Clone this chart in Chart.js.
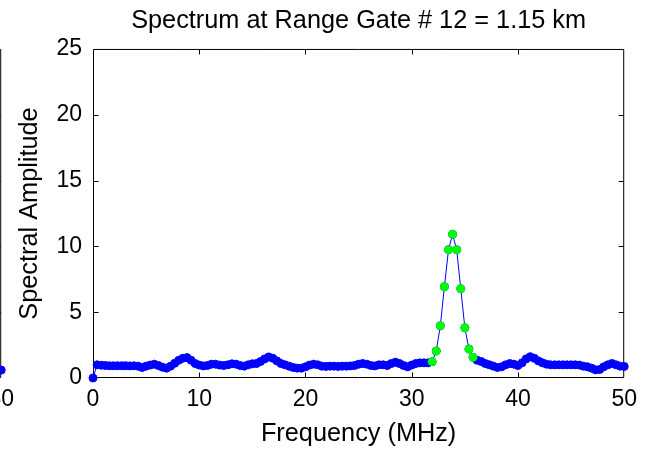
<!DOCTYPE html>
<html>
<head>
<meta charset="utf-8">
<script src="https://cdn.jsdelivr.net/npm/chart.js@4/dist/chart.umd.min.js"></script>
<style>
  html, body { margin: 0; padding: 0; background: #fff; overflow: hidden; }
  #wrap { position: relative; width: 645px; height: 449px; overflow: hidden; }
  canvas { position: absolute; top: 0; }
  #neighbor { left: -318px; }
  #spectrum { left: 0; }
</style>
</head>
<body>
<div id="wrap">
  <canvas id="neighbor" width="340" height="449"></canvas>
  <canvas id="spectrum" width="645" height="449"></canvas>
</div>
<script>
// spectrum bins run 0..50 MHz, 131 bins
var freqMax = 50;
var binCount = 131;

// spectral amplitude per bin
var amplitude = [
  0, 1.0, 0.97, 0.95, 0.93, 0.93, 0.93, 0.93, 0.93, 0.92,
  0.93, 0.9, 0.8, 0.9, 0.98, 1.05, 0.95, 0.82, 0.75, 0.9,
  1.12, 1.35, 1.5, 1.55, 1.35, 1.1, 0.98, 0.92, 0.95, 1.05,
  1.05, 0.98, 0.95, 1.0, 1.08, 1.05, 0.95, 0.9, 1.0, 1.08,
  1.1, 1.25, 1.45, 1.6, 1.5, 1.3, 1.1, 1.0, 0.9, 0.8,
  0.75, 0.75, 0.85, 0.98, 1.05, 1.0, 0.9, 0.88, 0.9, 0.9,
  0.88, 0.9, 0.9, 0.92, 0.95, 1.05, 1.1, 1.05, 0.95, 0.92,
  1.0, 1.0, 0.95, 1.1, 1.2, 1.1, 0.95, 0.85, 0.98, 1.1,
  1.15, 1.15, 1.15, 1.24, 2.05, 3.97, 6.94, 9.75, 10.92, 9.75,
  6.79, 3.82, 2.2, 1.57, 1.35, 1.25, 1.1, 1.0, 0.9, 0.8,
  0.85, 1.0, 1.1, 1.05, 0.95, 1.15, 1.45, 1.62, 1.5, 1.3,
  1.15, 1.05, 1.0, 1.0, 1.0, 1.0, 1.0, 1.0, 1.0, 0.98,
  0.9, 0.85, 0.75, 0.62, 0.65, 0.85, 1.0, 1.1, 1.0, 0.9,
  0.88
];

// bins flagged as signal (drawn green)
var signalBins = [83, 84, 85, 86, 87, 88, 89, 90, 91, 92, 93];

// neighbouring subplot, only its last bin shows at the left edge
var neighborFreq = [50];
var neighborAmp = [0.6];

var xTicks = [0, 10, 20, 30, 40, 50];
var yTicks = [0, 5, 10, 15, 20, 25];

var FAMILY = "'Liberation Sans', Arial, sans-serif";
var TICK_FONT = { family: FAMILY, size: 23 };
var LABEL_FONT = { family: FAMILY, size: 25.3, weight: 'normal' };

var points = amplitude.map(function(a, i) {
  return { x: i * freqMax / (binCount - 1), y: a };
});
var signalPoints = signalBins.map(function(i) { return points[i]; });

// matlab style box with inward ticks
var boxPlugin = {
  id: 'box',
  beforeDatasetsDraw: function(chart) {
    var ctx = chart.ctx, a = chart.chartArea;
    var x = chart.scales.x, y = chart.scales.y;
    var L = a.left + 0.5, R = a.right - 0.5, T = a.top + 0.5, B = a.bottom - 0.5;
    ctx.save();
    ctx.strokeStyle = '#000';
    ctx.lineWidth = 1;
    ctx.beginPath();
    ctx.rect(L, T, R - L, B - T);
    xTicks.slice(1, -1).forEach(function(v) {
      var px = Math.round(x.getPixelForValue(v)) + 0.5;
      ctx.moveTo(px, B); ctx.lineTo(px, B - 5);
      ctx.moveTo(px, T); ctx.lineTo(px, T + 5);
    });
    yTicks.slice(1, -1).forEach(function(v) {
      var py = Math.round(y.getPixelForValue(v)) + 0.5;
      ctx.moveTo(L, py); ctx.lineTo(L + 5, py);
      ctx.moveTo(R, py); ctx.lineTo(R - 5, py);
    });
    ctx.stroke();
    ctx.restore();
  }
};

function xScale(showTitle) {
  return {
    type: 'linear', min: 0, max: freqMax,
    afterBuildTicks: function(s) { s.ticks = xTicks.map(function(v) { return { value: v }; }); },
    afterFit: function(s) { s.height = 71; },
    grid: { display: false, drawTicks: false },
    border: { display: false },
    ticks: { font: TICK_FONT, color: '#000', padding: 8, maxRotation: 0 },
    title: { display: showTitle, text: 'Frequency (MHz)', font: LABEL_FONT, color: '#000', padding: { top: 0, bottom: 0 } }
  };
}

function yScale(showTitle) {
  return {
    type: 'linear', min: 0, max: 25,
    afterBuildTicks: function(s) { s.ticks = yTicks.map(function(v) { return { value: v }; }); },
    afterFit: function(s) { s.width = showTitle ? 93 : 0; },
    grid: { display: false, drawTicks: false },
    border: { display: false },
    ticks: { display: showTitle, font: TICK_FONT, color: '#000', padding: 11 },
    title: { display: showTitle, text: 'Spectral Amplitude', font: LABEL_FONT, color: '#000', padding: { top: 15, bottom: 0 } }
  };
}

new Chart(document.getElementById('neighbor'), {
  type: 'scatter',
  data: {
    datasets: [{
      data: neighborFreq.map(function(f, i) { return { x: f, y: neighborAmp[i] }; }),
      showLine: true,
      borderColor: '#0000ff', borderWidth: 1,
      pointRadius: 4, pointBorderWidth: 1,
      pointBackgroundColor: '#0000ff', pointBorderColor: '#0000ff',
      clip: false
    }]
  },
  options: {
    responsive: false, animation: false, devicePixelRatio: 1,
    layout: { padding: { top: 49, right: 20, left: 0, bottom: 0 } },
    plugins: { legend: { display: false }, tooltip: { enabled: false } },
    scales: { x: xScale(false), y: yScale(false) }
  },
  plugins: [boxPlugin]
});

new Chart(document.getElementById('spectrum'), {
  type: 'scatter',
  data: {
    datasets: [{
      label: 'signal',
      data: signalPoints,
      showLine: false,
      pointRadius: 4, pointBorderWidth: 1,
      pointBackgroundColor: '#00ff00', pointBorderColor: '#00ff00',
      order: 0, clip: false
    }, {
      label: 'spectrum',
      data: points,
      showLine: true,
      borderColor: '#0000ff', borderWidth: 1,
      pointRadius: 4, pointBorderWidth: 1,
      pointBackgroundColor: '#0000ff', pointBorderColor: '#0000ff',
      order: 1, clip: false
    }]
  },
  options: {
    responsive: false, animation: false, devicePixelRatio: 1,
    layout: { padding: { top: 0, right: 17, left: 0, bottom: 0 } },
    plugins: {
      legend: { display: false },
      tooltip: { enabled: false },
      title: {
        display: true, fullSize: false,
        text: 'Spectrum at Range Gate # 12 = 1.15 km',
        font: LABEL_FONT,
        color: '#000',
        padding: { top: 6, bottom: 12.6 }
      }
    },
    scales: { x: xScale(true), y: yScale(true) }
  },
  plugins: [boxPlugin]
});
</script>
</body>
</html>
